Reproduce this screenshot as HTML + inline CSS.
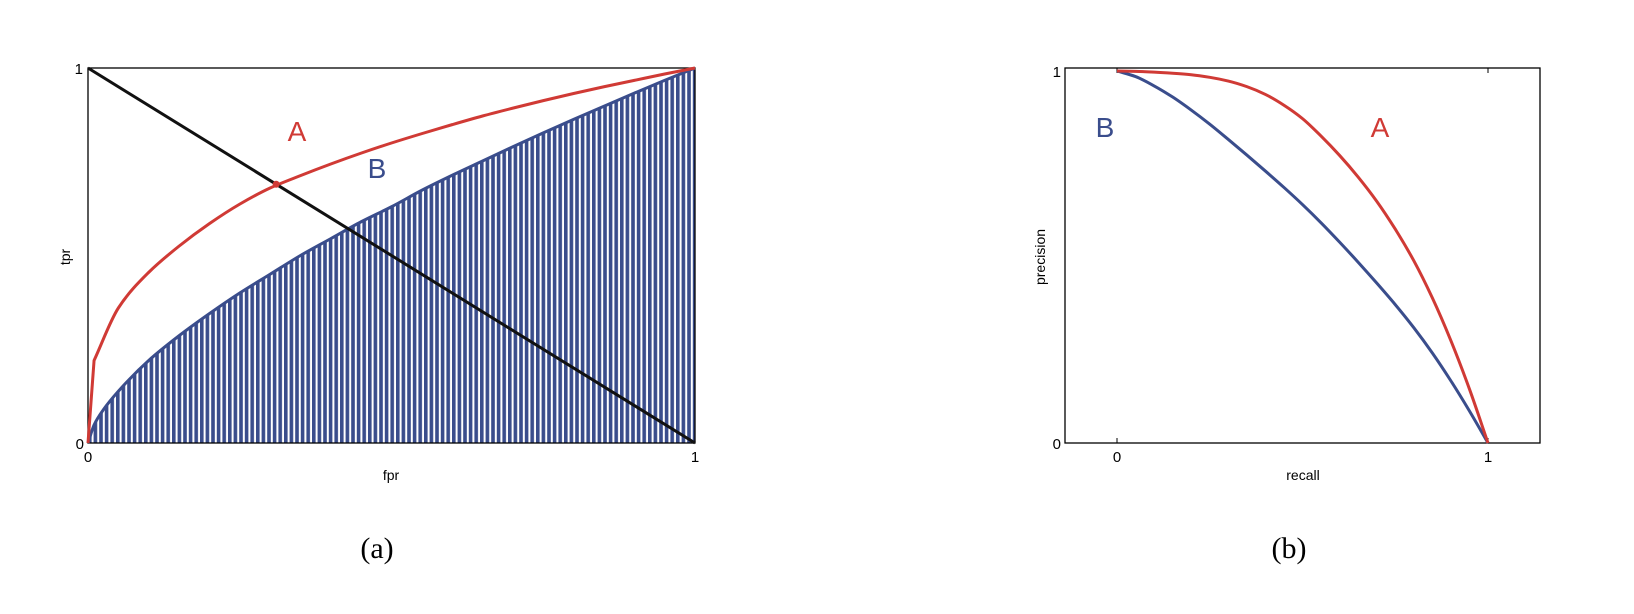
<!DOCTYPE html>
<html><head><meta charset="utf-8"><style>
html,body{margin:0;padding:0;background:#fff;}
svg{display:block;}
text{font-family:"Liberation Sans",sans-serif;}
</style></head><body>
<svg id="fig" width="1634" height="614" viewBox="0 0 1634 614">
<defs>
<pattern id="hatch" patternUnits="userSpaceOnUse" x="88" y="0" width="5.6" height="10">
<rect x="0" y="0" width="3.6" height="10" fill="#3a4d8c"/>
</pattern>
</defs>
<g id="pa"></g>
<g id="pb"></g>
<text x="377" y="558" font-size="30" text-anchor="middle" style="font-family:'Liberation Serif',serif">(a)</text>
<text x="1289" y="558" font-size="30" text-anchor="middle" style="font-family:'Liberation Serif',serif">(b)</text>
</svg>
<script>
// ROC data
const rocAX = [0, 0.01, 0.05, 0.1, 0.15, 0.2, 0.25, 0.3, 0.35, 0.4, 0.45, 0.5, 0.55, 0.6, 0.65, 0.7, 0.75, 0.8, 0.85, 0.9, 0.95, 1];
const rocA = [0, 0.22, 0.36, 0.455, 0.525, 0.585, 0.637, 0.68, 0.713, 0.744, 0.773, 0.80, 0.825, 0.849, 0.872, 0.893, 0.913, 0.932, 0.95, 0.967, 0.984, 1];
const rocBX = [0, 0.01, 0.025, 0.05, 0.1, 0.15, 0.2, 0.25, 0.3, 0.35, 0.4, 0.45, 0.5, 0.55, 0.6, 0.65, 0.7, 0.75, 0.8, 0.85, 0.9, 0.95, 1];
const rocB = [0, 0.048, 0.088, 0.138, 0.22, 0.286, 0.345, 0.40, 0.45, 0.50, 0.545, 0.59, 0.63, 0.674, 0.714, 0.752, 0.79, 0.827, 0.863, 0.898, 0.933, 0.967, 1];
const diagX = [0, 1];
const diagY = [1, 0];
const crossA = [0.31, 0.69];
// PR data
const prX = [0, 0.05, 0.1, 0.15, 0.2, 0.25, 0.3, 0.35, 0.4, 0.45, 0.5, 0.55, 0.6, 0.65, 0.7, 0.75, 0.8, 0.85, 0.9, 0.95, 1];
const prA = [1, 0.999, 0.997, 0.994, 0.99, 0.983, 0.973, 0.958, 0.937, 0.908, 0.872, 0.825, 0.773, 0.715, 0.65, 0.575, 0.49, 0.39, 0.275, 0.145, 0];
const prB = [1, 0.985, 0.96, 0.93, 0.895, 0.857, 0.816, 0.774, 0.731, 0.687, 0.641, 0.592, 0.54, 0.486, 0.43, 0.372, 0.31, 0.242, 0.167, 0.086, 0];
const ticks = ['0', '1'];

const NS = 'http://www.w3.org/2000/svg';
function mk(parent, tag, attrs, txt){
  const e = document.createElementNS(NS, tag);
  for (const k in attrs) e.setAttribute(k, attrs[k]);
  if (txt !== undefined) e.textContent = txt;
  parent.appendChild(e);
  return e;
}
// monotone cubic (Fritsch-Carlson) through pixel points
function monoSeg(pts){
  const n = pts.length, dx = [], s = [], m = [];
  for (let i = 0; i < n-1; i++){ dx[i] = pts[i+1][0]-pts[i][0]; s[i] = (pts[i+1][1]-pts[i][1])/dx[i]; }
  m[0] = s[0]; m[n-1] = s[n-2];
  for (let i = 1; i < n-1; i++){
    if (s[i-1]*s[i] <= 0) m[i] = 0;
    else { const w1 = 2*dx[i]+dx[i-1], w2 = dx[i]+2*dx[i-1]; m[i] = (w1+w2)/(w1/s[i-1]+w2/s[i]); }
  }
  let d = '';
  for (let i = 0; i < n-1; i++){
    const h = dx[i]/3;
    d += 'C' + (pts[i][0]+h) + ',' + (pts[i][1]+m[i]*h) + ' ' + (pts[i+1][0]-h) + ',' + (pts[i+1][1]-m[i+1]*h) + ' ' + pts[i+1];
  }
  return d;
}
function smooth(pts){ return 'M' + pts[0] + monoSeg(pts); }

// Panel A
const pa = document.getElementById('pa');
const ax = v => 88 + v * 607;
const ay = v => 443 - v * 375;
const bPts = rocBX.map((x, i) => [ax(x), ay(rocB[i])]);
let fill = mk(pa, 'path', {d: smooth(bPts) + 'L' + ax(1) + ',' + ay(0) + 'L' + ax(0) + ',' + ay(0) + 'Z', fill: 'url(#hatch)'});


let fr = mk(pa, 'rect', {x: 88, y: 68, width: 607, height: 375, fill: 'none', stroke: '#000', 'stroke-width': 1.3});


let lb = mk(pa, 'path', {d: smooth(bPts), fill: 'none', stroke: '#3a4d8c', 'stroke-width': 3});


const aPts = rocAX.map((x, i) => [ax(x), ay(rocA[i])]);
let la = mk(pa, 'path', {d: 'M' + aPts[0] + 'L' + aPts[1] + monoSeg(aPts.slice(1)), fill: 'none', stroke: '#d03a35', 'stroke-width': 3});


let dg = mk(pa, 'line', {x1: ax(diagX[0]), y1: ay(diagY[0]), x2: ax(diagX[1]), y2: ay(diagY[1]), stroke: '#111', 'stroke-width': 3});


let dot = mk(pa, 'circle', {cx: ax(crossA[0]), cy: ay(crossA[1]), r: 3.5, fill: '#d03a35'});


let t;
t = mk(pa, 'text', {x: 83, y: 74, 'font-size': 15, 'text-anchor': 'end'}, ticks[1]);
 
t = mk(pa, 'text', {x: 84, y: 449, 'font-size': 15, 'text-anchor': 'end'}, ticks[0]);
 
t = mk(pa, 'text', {x: ax(0), y: 462, 'font-size': 15, 'text-anchor': 'middle'}, ticks[0]);
 
t = mk(pa, 'text', {x: ax(1), y: 462, 'font-size': 15, 'text-anchor': 'middle'}, ticks[1]);
 
t = mk(pa, 'text', {x: 391, y: 480, 'font-size': 14, 'text-anchor': 'middle'}, 'fpr');
 
t = mk(pa, 'text', {x: 0, y: 0, 'font-size': 14, 'text-anchor': 'middle', transform: 'translate(70,257) rotate(-90)'}, 'tpr');
 
t = mk(pa, 'text', {x: 297, y: 141, 'font-size': 28, 'text-anchor': 'middle', fill: '#d03a35'}, 'A');
 
t = mk(pa, 'text', {x: 377, y: 178, 'font-size': 28, 'text-anchor': 'middle', fill: '#3a4d8c'}, 'B');
 

// Panel B
const pb = document.getElementById('pb');
const bx = v => 1117 + v * 371;
const by = v => 443 - v * 372;
let fr2 = mk(pb, 'rect', {x: 1065, y: 68, width: 475, height: 375, fill: 'none', stroke: '#000', 'stroke-width': 1.3});


[0, 1].forEach(v => {
  let tk = mk(pb, 'path', {d: 'M' + bx(v) + ',443v-5M' + bx(v) + ',68v5', stroke: '#000', 'stroke-width': 1});
  
  
});
let pbB = mk(pb, 'path', {d: smooth(prX.map((x, i) => [bx(x), by(prB[i])])), fill: 'none', stroke: '#3a4d8c', 'stroke-width': 3});


let pbA = mk(pb, 'path', {d: smooth(prX.map((x, i) => [bx(x), by(prA[i])])), fill: 'none', stroke: '#d03a35', 'stroke-width': 3});


t = mk(pb, 'text', {x: 1061, y: 77, 'font-size': 15, 'text-anchor': 'end'}, ticks[1]);
 
t = mk(pb, 'text', {x: 1061, y: 449, 'font-size': 15, 'text-anchor': 'end'}, ticks[0]);
 
t = mk(pb, 'text', {x: bx(0), y: 462, 'font-size': 15, 'text-anchor': 'middle'}, ticks[0]);
 
t = mk(pb, 'text', {x: bx(1), y: 462, 'font-size': 15, 'text-anchor': 'middle'}, ticks[1]);
 
t = mk(pb, 'text', {x: 1303, y: 480, 'font-size': 14, 'text-anchor': 'middle'}, 'recall');
 
t = mk(pb, 'text', {x: 0, y: 0, 'font-size': 14, 'text-anchor': 'middle', transform: 'translate(1045,257) rotate(-90)'}, 'precision');
 
t = mk(pb, 'text', {x: 1105, y: 137, 'font-size': 28, 'text-anchor': 'middle', fill: '#3a4d8c'}, 'B');
 
t = mk(pb, 'text', {x: 1380, y: 137, 'font-size': 28, 'text-anchor': 'middle', fill: '#d03a35'}, 'A');
 
</script>
</body></html>
